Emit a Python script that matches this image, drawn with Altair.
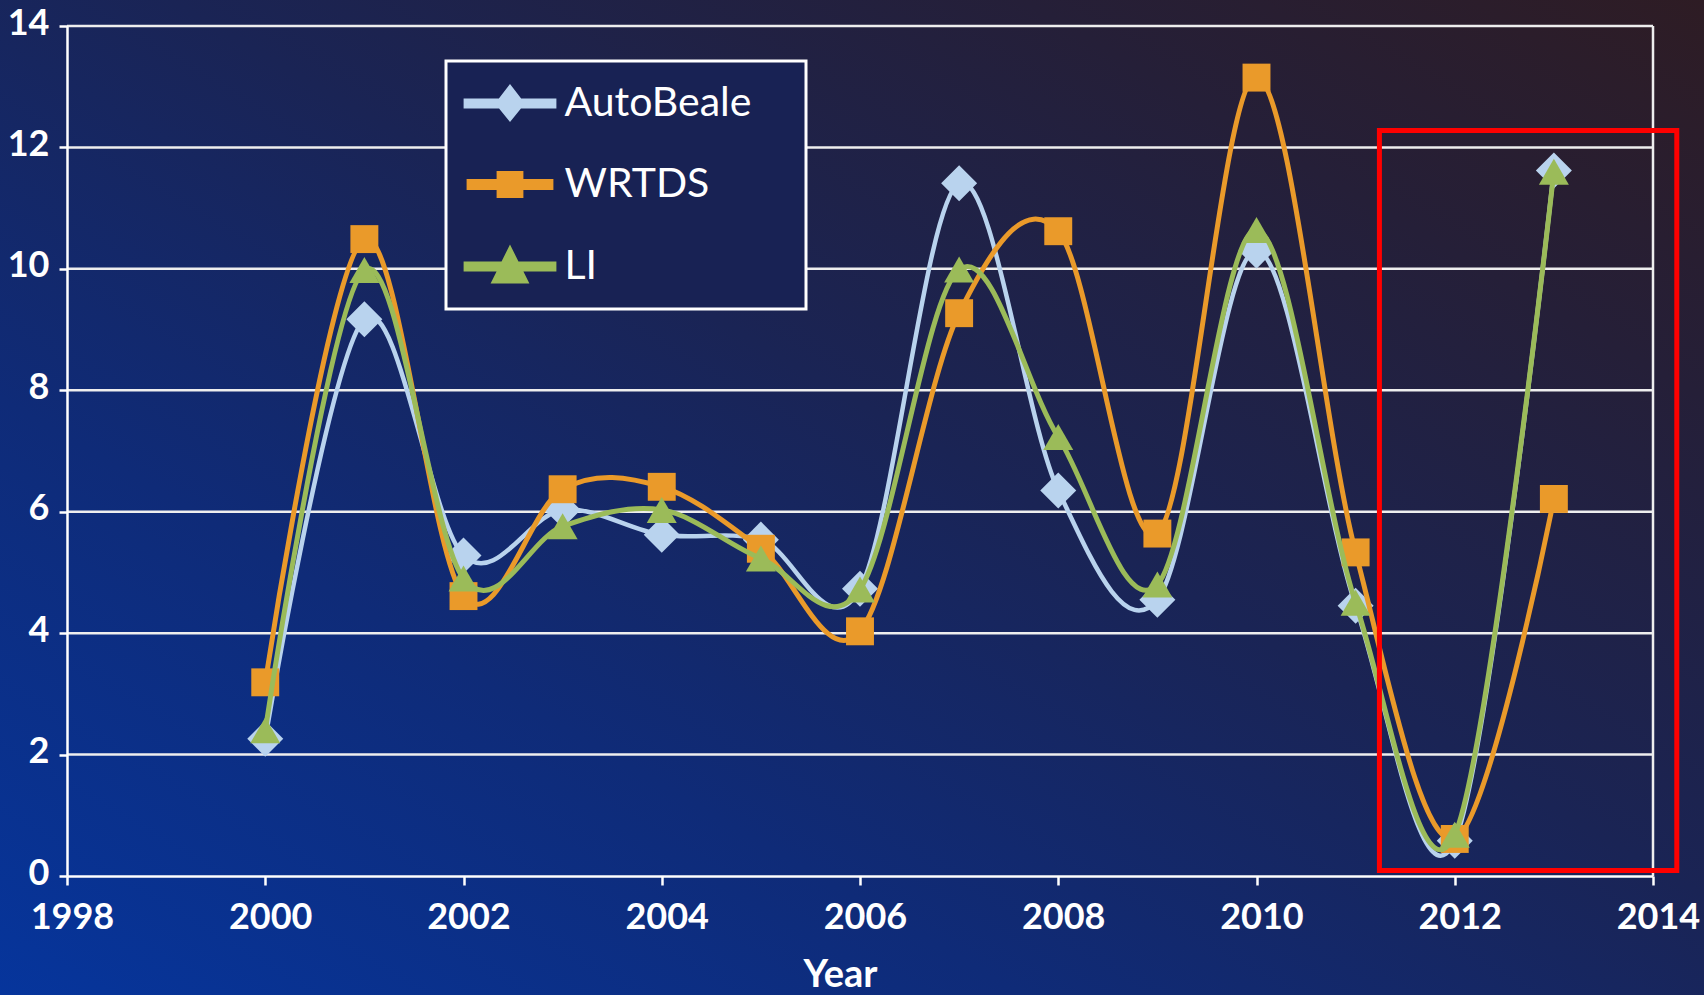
import altair as alt
import pandas as pd

# ---- data -----------------------------------------------------------------
years = list(range(2000, 2014))
series_names = ["AutoBeale", "WRTDS", "LI"]
autobeale = [2.26, 9.17, 5.28, 6.03, 5.62, 5.54, 4.73, 11.41, 6.35, 4.55, 10.30, 4.45, 0.58, 11.62]
wrtds = [3.19, 10.49, 4.61, 6.37, 6.41, 5.39, 4.03, 9.27, 10.62, 5.64, 13.15, 5.33, 0.61, 6.21]
li = [2.40, 9.98, 4.90, 5.76, 6.03, 5.23, 4.72, 9.99, 7.23, 4.80, 10.64, 4.50, 0.68, 11.60]

x_ticks = list(range(1998, 2015, 2))
y_ticks = list(range(0, 15, 2))

# highlighted window around the last two years (data units)
focus_years = [2011.24, 2014.24]
focus_values = [0.09, 12.28]

# ---- styling ----------------------------------------------------------------
W, H = 1586, 850
PAD = {"left": 67, "top": 26, "right": 51, "bottom": 119}
TICK_FONT = "Lato, Open Sans, sans-serif"
LEGEND_FONT = "Lato, Open Sans, sans-serif"

colors = ["#b9d3ee", "#ea9a2a", "#9bbb59"]
shapes = ["diamond", "square", "triangle-up"]
sizes = [1300, 780, 900]
line_widths = [4.5, 5, 5]

# legend glyphs: a thick line segment with the marker in the middle
legend_paths = [
    "M-2.32,-0.25L2.32,-0.25L2.32,0.25L-2.32,0.25Z M-0.75,0L0,-0.98L0.75,0L0,0.92Z",
    "M-2.17,-0.27L2.17,-0.27L2.17,0.27L-2.17,0.27Z M-0.67,-0.68L0.67,-0.68L0.67,0.68L-0.67,0.68Z",
    "M-2.32,-0.25L2.32,-0.25L2.32,0.25L-2.32,0.25Z M0,-1.1L0.97,0.85L-0.97,0.85Z",
]

values = {"AutoBeale": autobeale, "WRTDS": wrtds, "LI": li}
frames = {
    name: pd.DataFrame({"Year": years, "Value": values[name], "Series": name})
    for name in series_names
}
all_rows = pd.concat(frames.values(), ignore_index=True)

x_scale = alt.Scale(domain=[x_ticks[0], x_ticks[-1]], nice=False, zero=False)
y_scale = alt.Scale(domain=[y_ticks[0], y_ticks[-1]], nice=False, zero=True)

x_axis = alt.Axis(
    values=x_ticks, format="d", grid=False,
    domainColor="white", domainWidth=2.5,
    tickColor="white", tickWidth=2.5, tickSize=9,
    labelFont=TICK_FONT, labelFontSize=36, labelFontWeight="bold",
    labelColor="white", labelPadding=15, labelOffset=5,
    labelFlush=False, labelOverlap=False,
    title="Year", titleFont=TICK_FONT, titleFontSize=38, titleFontWeight="bold",
    titleColor="white", titleX=773, titleY=110, titleBaseline="alphabetic",
    zindex=1,
)
y_axis = alt.Axis(
    values=y_ticks, grid=False,
    domainColor="white", domainWidth=2.5,
    tickColor="white", tickWidth=2.5, tickSize=8,
    labelFont=TICK_FONT, labelFontSize=36, labelFontWeight="bold",
    labelColor="white", labelPadding=10, labelOffset=-3,
    labelFlush=False, labelOverlap=False,
    title=None, zindex=1,
)

X = alt.X("Year:Q", scale=x_scale, axis=x_axis)
Y = alt.Y("Value:Q", scale=y_scale, axis=y_axis)

# ---- layers -----------------------------------------------------------------
gradient = alt.LinearGradient(
    gradient="linear", x1=0, y1=1, x2=1, y2=0,
    stops=[
        alt.GradientStop(color="#06359c", offset=0),
        alt.GradientStop(color="#0f2b78", offset=0.3),
        alt.GradientStop(color="#1a2455", offset=0.55),
        alt.GradientStop(color="#251f38", offset=0.8),
        alt.GradientStop(color="#2e1c24", offset=1),
    ],
)
background = alt.Chart(alt.Data(values=[{"k": 0}])).mark_rect(fill=gradient).encode(
    x=alt.value(-PAD["left"]), x2=alt.value(W + PAD["right"]),
    y=alt.value(-PAD["top"]), y2=alt.value(H + PAD["bottom"]),
)

gridlines = alt.Chart(pd.DataFrame({"Value": y_ticks[1:]})).mark_rule(
    color="#eeeeee", strokeWidth=2.5
).encode(y=Y)

right_edge = alt.Chart(pd.DataFrame({"Year": [x_ticks[-1]]})).mark_rule(
    color="#eeeeee", strokeWidth=2.5
).encode(x=X)

series_layers = []
for name, c, s, sz, lw in zip(series_names, colors, shapes, sizes, line_widths):
    d = frames[name]
    series_layers.append(
        alt.Chart(d).mark_line(
            color=c, strokeWidth=lw, interpolate="cardinal", tension=0, strokeCap="round"
        ).encode(x=X, y=Y)
    )
    series_layers.append(
        alt.Chart(d).mark_point(
            shape=s, size=sz, filled=True, color=c, opacity=1, strokeWidth=0
        ).encode(x=X, y=Y)
    )

focus = alt.Chart(
    pd.DataFrame({"Year": [focus_years[0]], "Year2": [focus_years[1]],
                  "Value": [focus_values[0]], "Value2": [focus_values[1]]})
).mark_rect(fillOpacity=0, stroke="#ff0000", strokeWidth=5).encode(
    x=X, x2="Year2:Q", y=Y, y2="Value2:Q"
)

legend = alt.Legend(
    title="\u00a0", titleOrient="right", titlePadding=33, titleFontSize=2,
    orient="none", legendX=379, legendY=35,
    padding=22, rowPadding=39,
    symbolSize=1600, symbolStrokeWidth=0, symbolOffset=21.5,
    labelOffset=34, labelFont=LEGEND_FONT, labelFontSize=41, labelColor="white",
    labelLimit=500,
    fillColor="#182254", strokeColor="white",
)
legend_layer = alt.Chart(all_rows).transform_filter("false").mark_point(
    filled=True, opacity=1
).encode(
    x=X, y=Y,
    color=alt.Color("Series:N", scale=alt.Scale(domain=series_names, range=colors), legend=legend),
    shape=alt.Shape("Series:N", scale=alt.Scale(domain=series_names, range=legend_paths), legend=legend),
)

chart = alt.layer(
    background, gridlines, right_edge, *series_layers, focus, legend_layer
).properties(
    width=W, height=H, padding=PAD,
    autosize=alt.AutoSizeParams(type="none"),
    background="#1a2455",
).configure_view(strokeWidth=0).configure_legend(strokeWidth=3)

chart.save("out.html", embed_options={"renderer": "svg", "actions": False})
